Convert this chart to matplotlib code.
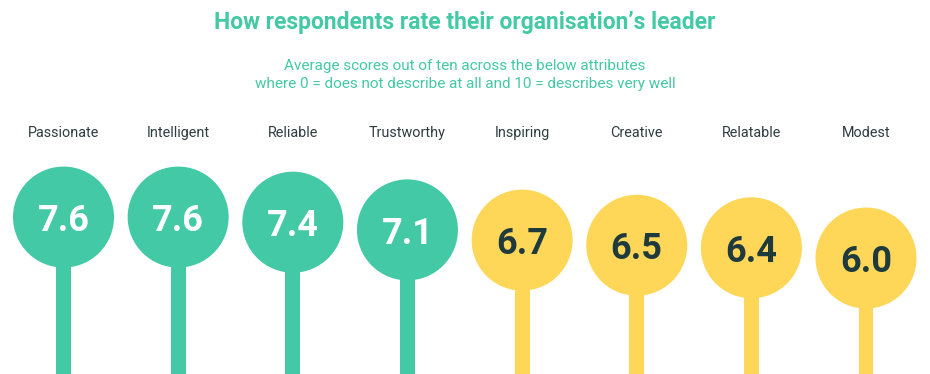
import numpy as np
import matplotlib
matplotlib.use('Agg')
import matplotlib.pyplot as plt
import matplotlib.transforms as mtransforms

attributes = ['Passionate', 'Intelligent', 'Reliable', 'Trustworthy',
              'Inspiring', 'Creative', 'Relatable', 'Modest']
scores = [7.6, 7.6, 7.4, 7.1, 6.7, 6.5, 6.4, 6.0]
top_group = [True, True, True, True, False, False, False, False]

GREEN = '#43c9a5'
YELLOW = '#fed758'
DARK = '#1f3a3c'
LABEL = '#2e3d40'

plt.rcParams['font.family'] = ['Roboto', 'DejaVu Sans']

fig = plt.figure(figsize=(9.3, 3.74), dpi=100)
ax = fig.add_axes([0, 0, 1, 1])
ax.set_axis_off()

x = np.arange(len(scores))
colors = [GREEN if t else YELLOW for t in top_group]

ax.bar(x, scores, width=0.13, color=colors, zorder=1)
ax.scatter(x, scores, s=(101 * 0.72) ** 2, c=colors, linewidths=0, zorder=2)

for xi, v, t in zip(x, scores, top_group):
    ax.text(xi, v, f'{v:.1f}', ha='center', va='center_baseline',
            fontsize=26, fontweight='bold', color='white' if t else DARK, zorder=3)

ax.set_xlim(-0.554, 7.558)
ax.set_ylim(1.47, 16.08)

trans = mtransforms.blended_transform_factory(ax.transData, fig.transFigure)
for xi, name in zip(x, attributes):
    ax.text(xi, 1 - 133 / 374, name, transform=trans, ha='center', va='center',
            fontsize=10.4, color=LABEL)

fig.text(0.5, 1 - 23 / 374, 'How respondents rate their organisation\u2019s leader',
         ha='center', va='center', fontsize=16.5, fontweight='bold', color=GREEN)
fig.text(0.5, 1 - 66 / 374, 'Average scores out of ten across the below attributes',
         ha='center', va='center', fontsize=11, color=GREEN)
fig.text(0.5, 1 - 84 / 374, 'where 0 = does not describe at all and 10 = describes very well',
         ha='center', va='center', fontsize=11, color=GREEN)

fig.savefig('out.png', dpi=100)
